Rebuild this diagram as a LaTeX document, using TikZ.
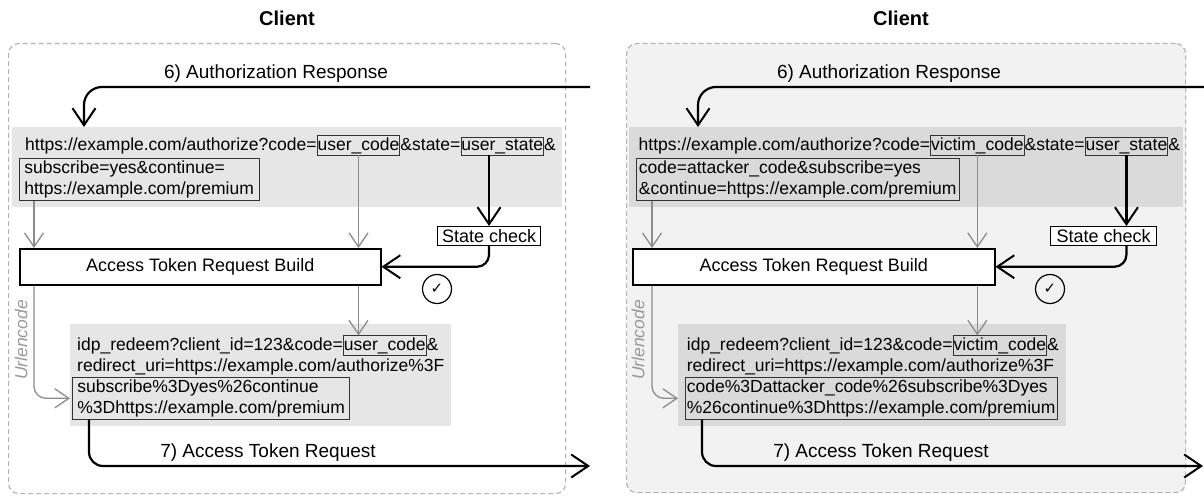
\documentclass[tikz,border=0pt]{standalone}
\usepackage{fontspec}
\setmainfont{Liberation Sans}
\newfontfamily\symfont{DejaVu Sans}
\usetikzlibrary{arrows.meta,positioning}
\definecolor{bandA}{HTML}{E6E6E6}
\definecolor{bandB}{HTML}{DADADA}
\definecolor{panelB}{HTML}{F2F2F2}
\definecolor{edge}{HTML}{B3B3B3}
\definecolor{flow}{HTML}{8C8C8C}
\newcommand{\urlsize}{\fontsize{17.5}{21.5}\selectfont}

\begin{document}
\begin{tikzpicture}[x=1pt,y=-1pt,
    panel/.style={draw=edge, line width=1.2pt, dash pattern=on 5pt off 3pt, rounded corners=10pt, anchor=north west, inner sep=0pt},
    band/.style={anchor=north west, inner sep=0pt},
    paneltitle/.style={font=\fontsize{20}{24}\selectfont\bfseries, anchor=base},
    txt/.style={font=\urlsize, inner sep=0pt, anchor=base west},
    hl/.style={draw=black!80, line width=0.8pt, font=\urlsize, inner xsep=0.5pt, inner ysep=1.5pt, anchor=base west},
    hlbox/.style={draw=black!80, line width=0.8pt, font=\urlsize, align=left, inner ysep=2pt, anchor=north west},
    buildbox/.style={draw, line width=1.5pt, fill=white, minimum height=36pt, anchor=north west, font=\fontsize{18}{22}\selectfont},
    statebox/.style={draw, line width=1pt, fill=white, inner ysep=3pt, anchor=north west, font=\fontsize{18}{22}\selectfont},
    okmark/.style={circle, draw, line width=1.2pt, minimum size=29pt, inner sep=0pt, font=\symfont\fontsize{15}{15}\selectfont},
    flowlabel/.style={font=\fontsize{19}{23}\selectfont, anchor=base},
    enclabel/.style={font=\urlsize\itshape, text=black!40, rotate=90, inner sep=0pt},
    msg/.style={line width=2.2pt, -{Straight Barb[length=17pt, width=23pt, line width=2pt]}},
    gline/.style={draw=flow, line width=1.3pt},
    garrow/.style={gline, -{Straight Barb[length=14pt, width=19pt, line width=1.3pt]}}]

    \useasboundingbox (0,0) rectangle (1204,495);

    % left: normal flow
    \node[panel, minimum width=557pt, minimum height=450pt] (boxA) at (8,43) {};
    \node[paneltitle] (clientA) at (287,26) {Client};
    \node[band, fill=bandA, minimum width=550pt, minimum height=80pt] (bandA) at (11.5,127) {};
    \node[band, fill=bandA, minimum width=381pt, minimum height=102pt] (rbandA) at (70,324) {};

    \node[txt] (authA) at (25,150) {https://example.com/authorize?code=};
    \node[hl] (codeA) at (authA.base east) {user\_code};
    \node[txt] (stA) at (codeA.base east) {\&state=};
    \node[hl] (stateA) at (stA.base east) {user\_state};
    \node[txt] (ampA) at (stateA.base east) {\&};
    \node[hlbox, inner xsep=5pt] (subA) at (19,158) {subscribe=yes\&continue=\\https://example.com/premium};

    \node[buildbox, minimum width=361pt] (buildA) at (19,248) {Access Token Request Build};
    \node[statebox, inner xsep=4.5pt] (chkA) at (437,226) {State check};
    \node[okmark] (okA) at (437,289) {✓};

    \node[txt] (idpA) at (77,350) {idp\_redeem?client\_id=123\&code=};
    \node[hl] (rcodeA) at (idpA.base east) {user\_code};
    \node[txt] (rampA) at (rcodeA.base east) {\&};
    \node[txt] (uriA) at (77,371.5) {redirect\_uri=https://example.com/authorize\%3F};
    \node[hlbox, inner xsep=5pt] (encA) at (72,377) {subscribe\%3Dyes\%26continue\\\%3Dhttps://example.com/premium};

    \node[enclabel] (urlA) at (21,340) {Urlencode};
    \node[flowlabel] (respA) at (276,78) {6) Authorization Response};
    \node[flowlabel] (reqA) at (268,457) {7) Access Token Request};

    \coordinate (inA) at (590,87);
    \coordinate (outA) at (590,466);
    \coordinate (tipA) at ([xshift=72.5pt]bandA.north west);
    \coordinate (gA) at ([xshift=15pt]subA.south west);
    \coordinate (sendA) at ([xshift=17pt]encA.south west);

    \draw[msg, rounded corners=18pt] (inA) -| (tipA);
    \draw[garrow] (gA) -- (gA |- buildA.north);
    \draw[garrow, rounded corners=12pt] (gA |- buildA.south) |- (encA.west -| rbandA.west);
    \draw[garrow] (codeA.south) -- (codeA.south |- buildA.north);
    \draw[garrow] (codeA.south |- buildA.south) -- (codeA.south |- rcodeA.north);
    \draw[msg] (stateA.south -| chkA.north) -- (chkA.north);
    \draw[msg, rounded corners=12pt] (chkA.south) |- (buildA.east);
    \draw[msg, rounded corners=14pt] (sendA) |- (outA);

    % right: injected code
    \node[panel, fill=panelB, minimum width=559pt, minimum height=449pt] (boxB) at (626,43) {};
    \node[paneltitle] (clientB) at (901,26) {Client};
    \node[band, fill=bandB, minimum width=554pt, minimum height=80pt] (bandB) at (629,127) {};
    \node[band, fill=bandB, minimum width=388pt, minimum height=102pt] (rbandB) at (678,324) {};

    \node[txt] (authB) at (638.5,150) {https://example.com/authorize?code=};
    \node[hl] (codeB) at (authB.base east) {victim\_code};
    \node[txt] (stB) at (codeB.base east) {\&state=};
    \node[hl] (stateB) at (stB.base east) {user\_state};
    \node[txt] (ampB) at (stateB.base east) {\&};
    \node[hlbox, inner xsep=2.5pt] (subB) at (636,158) {code=attacker\_code\&subscribe=yes\\\&continue=https://example.com/premium};

    \node[buildbox, minimum width=362pt] (buildB) at (632,248) {Access Token Request Build};
    \node[statebox, inner xsep=6pt] (chkB) at (1050,226) {State check};
    \node[okmark] (okB) at (1050,289) {✓};

    \node[txt] (idpB) at (686.7,350) {idp\_redeem?client\_id=123\&code=};
    \node[hl] (rcodeB) at (idpB.base east) {victim\_code};
    \node[txt] (rampB) at (rcodeB.base east) {\&};
    \node[txt] (uriB) at (686.7,371.5) {redirect\_uri=https://example.com/authorize\%3F};
    \node[hlbox, inner xsep=1.5pt] (encB) at (685,377) {code\%3Dattacker\_code\%26subscribe\%3Dyes\\\%26continue\%3Dhttps://example.com/premium};

    \node[enclabel] (urlB) at (638,340) {Urlencode};
    \node[flowlabel] (respB) at (889,78) {6) Authorization Response};
    \node[flowlabel] (reqB) at (881,457) {7) Access Token Request};

    \coordinate (inB) at (1204,87);
    \coordinate (outB) at (1203,466);
    \coordinate (tipB) at ([xshift=69pt]bandB.north west);
    \coordinate (gB) at ([xshift=16pt]subB.south west);
    \coordinate (sendB) at ([xshift=17pt]encB.south west);

    \draw[msg, rounded corners=18pt] (inB) -| (tipB);
    \draw[garrow] (gB) -- (gB |- buildB.north);
    \draw[garrow, rounded corners=12pt] (gB |- buildB.south) |- (encB.west -| rbandB.west);
    \draw[garrow] (codeB.south) -- (codeB.south |- buildB.north);
    \draw[garrow] (codeB.south |- buildB.south) -- (codeB.south |- rcodeB.north);
    \draw[msg] (stateB.south) -- (stateB.south |- chkB.north);
    \draw[msg, rounded corners=12pt] (stateB.south |- chkB.south) |- (buildB.east);
    \draw[msg, rounded corners=14pt] (sendB) |- (outB);
\end{tikzpicture}
\end{document}
